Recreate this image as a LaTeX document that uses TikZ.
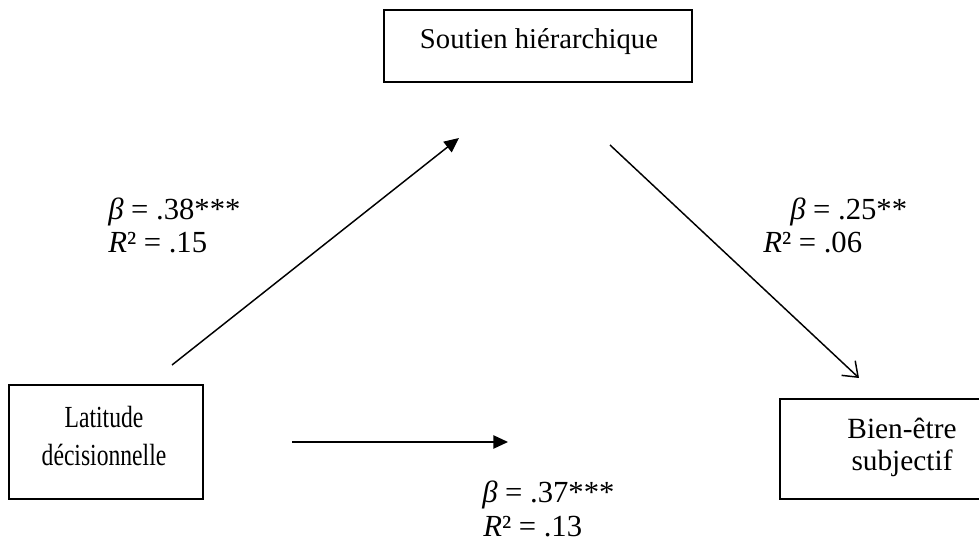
\documentclass[tikz,border=0pt]{standalone}
\usepackage{fontspec}
\setmainfont{Liberation Serif}
\newfontfamily\condfont{Liberation Serif}[FakeStretch=0.77]
\usetikzlibrary{arrows.meta}
\begin{document}
\begin{tikzpicture}[x=0.75pt,y=-0.75pt,
  box/.style={draw, line width=0.9pt, inner sep=0pt},
  txt/.style={font=\fontsize{21.5}{27}\selectfont, align=center, inner sep=0pt},
  lbl/.style={font=\fontsize{23}{24}\selectfont, anchor=west, inner sep=0pt},
  conn/.style={line width=1.1pt},
  filledtip/.style={-{Triangle[length=11pt,width=10pt]}},
  opentip/.style={-{Straight Barb[length=10pt,width=15pt,line width=1.1pt]}}
]
\useasboundingbox (0,0) rectangle (979,552);
% boxes
\node[box, minimum width=231pt, minimum height=54pt] (sout) at (538,46) {};
\node[txt] (souttxt) at (539,42) {Soutien hiérarchique};
\node[box, minimum width=145.5pt, minimum height=85.5pt] (lat) at (106,442) {};
\node[txt, font=\condfont\fontsize{23}{28.5}\selectfont] (lattxt) at (104,436) {Latitude\\décisionnelle};
\node[box, minimum width=150pt, minimum height=75pt] (bien) at (880,449) {};
\node[txt, font=\fontsize{22}{24}\selectfont] (bientxt) at (902,447) {Bien-être\\subjectif};
% connectors
\coordinate (a1s) at (172,365); \coordinate (a1e) at (459,138);
\coordinate (a2s) at (610,145); \coordinate (a2e) at (859,378);
\coordinate (a3s) at (292,442); \coordinate (a3e) at (508,442);
\draw[conn, filledtip] (a1s) -- (a1e);
\draw[conn, opentip] (a2s) -- (a2e);
\draw[conn, filledtip] (a3s) -- (a3e);
% labels
\node[lbl] (b1) at (108,212) {\textit{β} = .38***};
\node[lbl] (r1) at (108,243) {\textit{R}² = .15};
\node[lbl] (b2) at (790,212) {\textit{β} = .25**};
\node[lbl] (r2) at (763,243) {\textit{R}² = .06};
\node[lbl] (b3) at (482,495) {\textit{β} = .37***};
\node[lbl] (r3) at (483,527) {\textit{R}² = .13};
\end{tikzpicture}
\end{document}
